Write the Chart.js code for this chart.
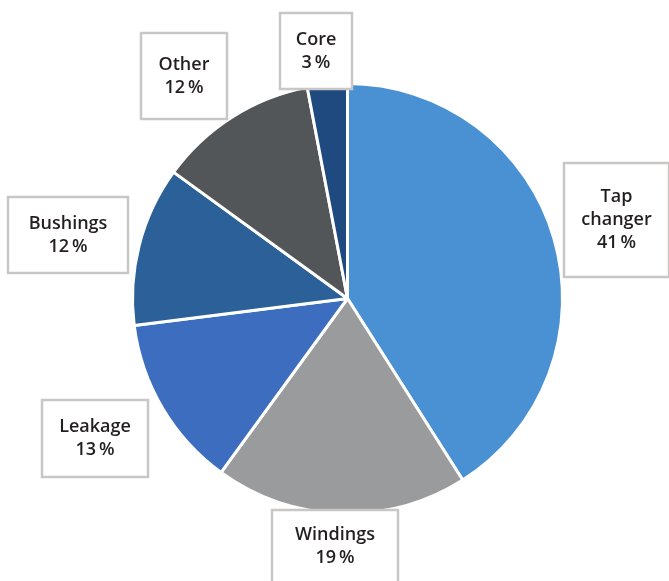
<!DOCTYPE html>
<html>
<head>
<meta charset="utf-8">
<script src="https://cdn.jsdelivr.net/npm/chart.js@4/dist/chart.umd.min.js"></script>
<style>
  html, body { margin: 0; padding: 0; background: #ffffff; }
  #wrap { width: 669px; height: 581px; position: relative; }
</style>
</head>
<body>
<div id="wrap"><canvas id="c" width="669" height="581"></canvas></div>
<script>
// Data
const categories = ["Tap changer", "Windings", "Leakage", "Bushings", "Other", "Core"];
const labelLines = [["Tap", "changer"], ["Windings"], ["Leakage"], ["Bushings"], ["Other"], ["Core"]];
const shares = [41, 19, 13, 12, 12, 3];
const sliceColors = ["#4a91d3", "#9a9b9d", "#3d6dbf", "#2b6099", "#535659", "#1e4a80"];

// Label box layout (annotation rectangles: left, top, right, bottom)
const labelBoxes = [
  [564, 163, 669, 277],
  [272, 510, 398, 583],
  [42, 400, 148, 477],
  [8, 197, 128, 273],
  [141, 33, 227, 119],
  [280, 13, 352, 89]
];

const labelBoxPlugin = {
  id: 'labelBoxes',
  afterDraw(chart) {
    const ctx = chart.ctx;
    ctx.save();
    categories.forEach((cat, i) => {
      const [l, t, r, b] = labelBoxes[i];
      ctx.fillStyle = '#ffffff';
      ctx.fillRect(l, t, r - l, b - t);
      ctx.strokeStyle = '#c9c7c5';
      ctx.lineWidth = 2.5;
      ctx.strokeRect(l, t, r - l, b - t);
      const lines = labelLines[i].concat([shares[i] + '\u2009%']);
      const lh = 23;
      const cx = (l + r) / 2;
      const cy = (t + b) / 2;
      const start = cy - (lines.length - 1) * lh / 2;
      ctx.fillStyle = '#231f20';
      ctx.font = '600 18px "Open Sans", sans-serif';
      ctx.textAlign = 'center';
      ctx.textBaseline = 'middle';
      lines.forEach((ln, k) => ctx.fillText(ln, cx, start + k * lh));
    });
    ctx.restore();
  }
};

new Chart(document.getElementById('c'), {
  type: 'pie',
  data: {
    labels: categories,
    datasets: [{
      data: shares,
      backgroundColor: sliceColors,
      borderColor: '#ffffff',
      borderWidth: 3
    }]
  },
  options: {
    responsive: false,
    animation: false,
    rotation: 0,
    layout: { padding: { top: 82, bottom: 66, left: 131, right: 105 } },
    plugins: {
      legend: { display: false },
      tooltip: { enabled: false }
    }
  },
  plugins: [labelBoxPlugin]
});
</script>
</body>
</html>
